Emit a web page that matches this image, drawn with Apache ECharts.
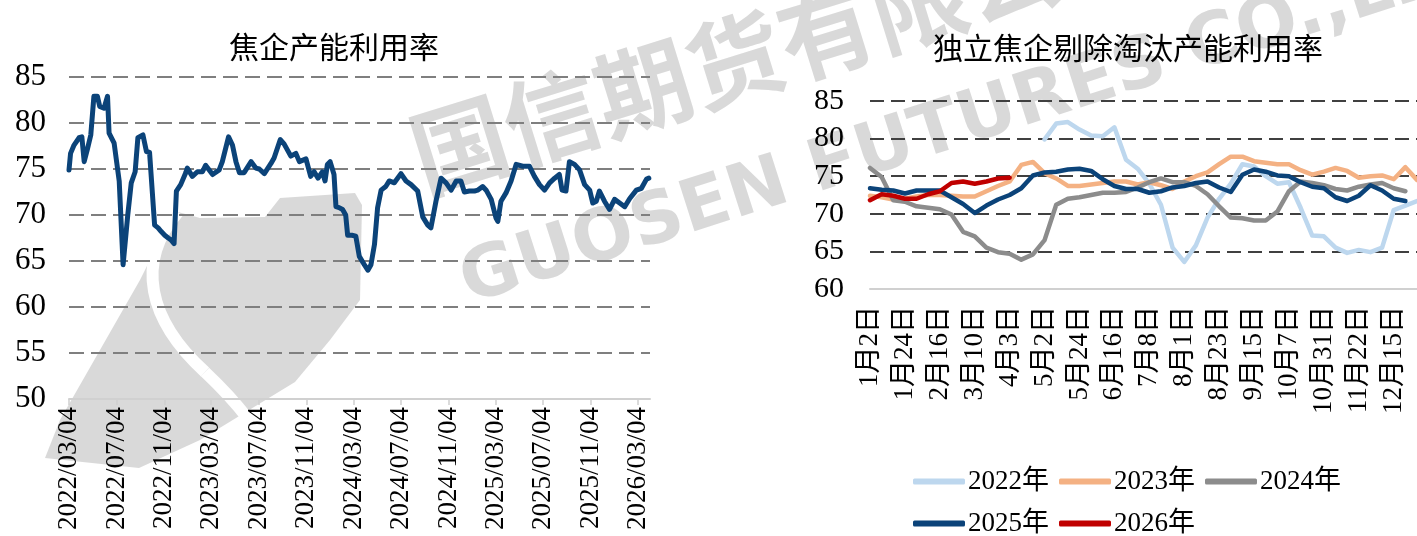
<!DOCTYPE html>
<html>
<head>
<meta charset="utf-8">
<script src="https://cdn.jsdelivr.net/npm/echarts@6/dist/echarts.min.js"></script>
<style>
  html, body { margin: 0; padding: 0; background: #fff; }
  #chart { width: 1417px; height: 536px; }
</style>
</head>
<body>
<div id="chart"></div>
<script>
// 左图：焦企产能利用率（读图取的拐点）
const leftDates = [
  '2022-03-04','2022-03-08','2022-03-17','2022-03-30','2022-04-06','2022-04-12','2022-04-20','2022-04-29',
  '2022-05-07','2022-05-16','2022-05-22','2022-06-02','2022-06-11','2022-06-15','2022-06-28','2022-07-11',
  '2022-07-21','2022-08-02','2022-08-11','2022-08-21','2022-08-28','2022-09-10','2022-09-19','2022-09-27',
  '2022-10-10','2022-10-19','2022-10-27','2022-11-05','2022-11-14','2022-11-21','2022-11-29','2022-12-05',
  '2022-12-16','2022-12-29','2023-01-02','2023-01-15','2023-01-28','2023-02-10','2023-02-18','2023-03-08',
  '2023-03-25','2023-04-02','2023-04-18','2023-04-28','2023-05-07','2023-05-16','2023-05-28','2023-06-15',
  '2023-06-27','2023-07-06','2023-07-19','2023-08-05','2023-08-13','2023-08-29','2023-09-08','2023-09-25',
  '2023-10-08','2023-10-17','2023-11-03','2023-11-15','2023-11-24','2023-12-04','2023-12-15','2023-12-22',
  '2023-12-28','2024-01-04','2024-01-14','2024-01-19','2024-01-27','2024-02-05','2024-02-13','2024-02-18',
  '2024-02-29','2024-03-10','2024-03-19','2024-04-01','2024-04-10','2024-04-18','2024-04-27','2024-05-05',
  '2024-05-14','2024-05-26','2024-06-04','2024-06-17','2024-07-04','2024-07-17','2024-07-30','2024-08-16',
  '2024-08-29','2024-09-11','2024-09-19','2024-10-02','2024-10-15','2024-10-28','2024-11-10','2024-11-23',
  '2024-12-05','2024-12-14','2024-12-27','2025-01-09','2025-01-17','2025-01-30','2025-02-08','2025-02-21',
  '2025-03-05','2025-03-10','2025-03-18','2025-03-31','2025-04-13','2025-04-26','2025-05-13','2025-05-30',
  '2025-06-12','2025-06-25','2025-07-08','2025-07-21','2025-08-03','2025-08-15','2025-08-22','2025-09-01',
  '2025-09-10','2025-09-23','2025-10-06','2025-10-19','2025-11-01','2025-11-09','2025-11-18','2025-11-26',
  '2025-12-09','2025-12-22','2026-01-04','2026-01-17','2026-01-30','2026-02-12','2026-03-01','2026-03-14',
  '2026-03-27','2026-04-02'
];
const leftValues = [
  74.9, 76.7, 77.6, 78.4, 78.5, 75.8, 77.1, 78.7,
  82.9, 82.9, 81.8, 81.6, 82.9, 78.9, 77.8, 73.7,
  64.6, 70.0, 73.5, 74.7, 78.4, 78.7, 76.9, 76.8,
  68.9, 68.6, 68.2, 67.8, 67.5, 67.3, 66.9, 72.6,
  73.3, 74.6, 75.1, 74.2, 74.7, 74.7, 75.4, 74.4,
  74.9, 75.8, 78.5, 77.6, 75.8, 74.6, 74.6, 75.8,
  75.1, 75.0, 74.5, 75.6, 76.2, 78.2, 77.7, 76.4,
  76.7, 75.8, 76.1, 74.2, 74.7, 74.0, 74.7, 73.7,
  75.5, 75.8, 74.4, 70.9, 70.8, 70.6, 70.0, 67.8,
  67.8, 67.7, 65.5, 64.6, 64.0, 64.6, 66.8, 70.8,
  72.7, 73.1, 73.7, 73.5, 74.5, 73.7, 73.3, 72.6,
  69.8, 68.9, 68.6, 71.5, 74.0, 73.5, 72.7, 73.7,
  73.7, 72.5, 72.6, 72.6, 72.7, 73.1, 72.7, 71.7,
  69.7, 69.3, 71.5, 72.4, 73.7, 75.5, 75.3, 75.3,
  74.2, 73.3, 72.7, 73.5, 74.0, 74.4, 72.7, 72.6,
  75.8, 75.5, 74.9, 73.3, 72.7, 71.3, 71.5, 72.6,
  71.5, 70.6, 71.7, 71.3, 70.9, 71.8, 72.7, 72.9,
  73.9, 74.0
];
const leftTicks = [
  '2022-03-04','2022-07-04','2022-11-04','2023-03-04','2023-07-04','2023-11-04','2024-03-04',
  '2024-07-04','2024-11-04','2025-03-04','2025-07-04','2025-11-04','2026-03-04'
];

// 右图：独立焦企剔除淘汰产能利用率（按周）
const weeks = [
  '1月2日','1月9日','1月16日','1月24日','1月31日','2月8日','2月16日','2月23日','3月2日','3月10日',
  '3月18日','3月26日','4月3日','4月13日','4月22日','5月2日','5月9日','5月16日','5月24日','6月1日',
  '6月8日','6月16日','6月23日','6月30日','7月8日','7月16日','7月24日','8月1日','8月8日','8月15日',
  '8月23日','8月31日','9月7日','9月15日','9月22日','9月29日','10月7日','10月15日','10月23日','10月31日',
  '11月7日','11月14日','11月22日','11月29日','12月7日','12月15日','12月22日','12月29日'
];
const y2022 = [
  null, null, null, null, null, null, null, null, null, null, null, null, null, null, null,
  79.9, 82.0, 82.2, 81.2, 80.4, 80.3, 81.5, 77.2, 76.0, 74.0, 71.2, 65.5, 63.6, 65.8, 69.5,
  72.0, 74.0, 76.6, 76.3, 75.0, 74.0, 74.2, 70.8, 67.1, 67.0, 65.5, 64.8, 65.2, 64.9, 65.5,
  70.5, 71.1, 71.7
];
const y2023 = [
  72.4, 72.2, 71.9, 72.0, 72.3, 72.5, 72.5, 72.4, 72.3, 72.3, 73.0, 73.7, 74.3, 76.5, 76.9,
  75.4, 74.7, 73.7, 73.7, 73.9, 74.1, 74.3, 74.3, 73.9, 74.2, 73.8, 73.3, 74.3, 75.0, 75.5,
  76.6, 77.6, 77.6, 77.0, 76.8, 76.6, 76.6, 75.8, 75.2, 75.6, 76.1, 75.7, 74.8, 75.0, 75.1,
  74.6, 76.2, 74.5
];
const y2024 = [
  76.1, 74.9, 71.8, 71.6, 71.0, 70.8, 70.6, 69.9, 67.6, 67.0, 65.5, 64.9, 64.7, 63.9, 64.6,
  66.5, 71.2, 72.0, 72.2, 72.5, 72.8, 72.8, 72.9, 73.5, 74.2, 74.7, 74.2, 74.2, 73.7, 72.6,
  71.0, 69.5, 69.4, 69.1, 69.1, 70.3, 73.0, 74.3, 74.1, 73.8, 73.3, 73.1, 73.6, 73.9, 74.1,
  73.4, 73.0, null
];
const y2025 = [
  73.4, 73.2, 73.1, 72.7, 73.1, 73.1, 73.1, 72.2, 71.3, 70.1, 71.1, 71.9, 72.5, 73.4, 75.1,
  75.5, 75.6, 75.9, 76.0, 75.7, 74.6, 73.7, 73.3, 73.3, 72.8, 73.0, 73.5, 73.7, 74.1, 74.3,
  73.5, 72.9, 75.2, 75.9, 75.6, 75.1, 75.0, 74.2, 73.6, 73.4, 72.2, 71.7, 72.4, 73.8, 73.1,
  72.0, 71.7, null
];
const y2026 = [71.8, 72.6, 72.4, 72.0, 72.0, 72.6, 73.0, 74.1, 74.3, 74.0, 74.3, 74.7, 74.8];

const yearNames = ['2022年', '2023年', '2024年', '2025年', '2026年'];
const yearColors = ['#BDD7EE', '#F4B183', '#8C8C8C', '#0B4379', '#C00000'];

const FONT = "'Liberation Serif', 'Times New Roman', 'Noto Sans CJK SC', serif";
const WM = 'rgba(128,128,128,0.3)'; // 水印灰

function toTime(s) {
  const p = s.split('-').map(Number);
  return new Date(p[0], p[1] - 1, p[2]).getTime();
}
function pad(n) { return n < 10 ? '0' + n : '' + n; }

const tickTimes = leftTicks.map(toTime);
const leftData = leftDates.map((d, i) => [toTime(d), leftValues[i]]);

const chart = echarts.init(document.getElementById('chart'));

const yearSeries = [y2022, y2023, y2024, y2025, y2026].map((arr, i) => ({
  name: yearNames[i],
  type: 'line',
  xAxisIndex: 1,
  yAxisIndex: 1,
  data: arr,
  showSymbol: false,
  symbol: 'none',
  connectNulls: false,
  lineStyle: { color: yearColors[i], width: 4.5, cap: 'round', join: 'round' },
  itemStyle: { color: yearColors[i] },
  z: 3 + i
}));

const legendBase = {
  left: 908, itemWidth: 52, itemHeight: 6, itemGap: 10, icon: 'roundRect',
  textStyle: { fontFamily: FONT, fontSize: 27, color: '#000', padding: [0, 0, 0, -2] }
};

const option = {
  animation: false,
  backgroundColor: '#fff',
  textStyle: { fontFamily: FONT },
  title: [
    { text: '焦企产能利用率', left: 329, top: 30, textAlign: 'center',
      textStyle: { fontFamily: FONT, fontSize: 30, fontWeight: 'normal', color: '#000' } },
    { text: '独立焦企剔除淘汰产能利用率', left: 1123, top: 31, textAlign: 'center',
      textStyle: { fontFamily: FONT, fontSize: 30, fontWeight: 'normal', color: '#000' } }
  ],
  graphic: [
    // 水印
    { type: 'text', x: 428, y: 205, rotation: 0.3, z: -1, silent: true,
      style: { text: '国信期货有限公司', font: 'bold 96px "Noto Sans CJK SC"', fill: WM, verticalAlign: 'bottom' } },
    { type: 'text', x: 474, y: 320, rotation: 0.31, z: -1, silent: true,
      style: { text: 'GUOSEN FUTURES CO.,LTD', font: 'bold 72px "DejaVu Sans"', fill: WM, verticalAlign: 'bottom' } },
    // 左下角 logo 底纹
    { type: 'polygon', z: -1, silent: true,
      shape: { points: [[45, 458], [60, 420], [100, 350], [140, 280], [165, 230], [178, 212], [200, 218],
        [265, 217], [280, 198], [355, 193], [362, 205], [360, 300], [330, 340], [295, 382], [200, 440],
        [139, 468]] },
      style: { fill: WM } },
    { type: 'bezierCurve', z: -1, silent: true,
      shape: { x1: 178, y1: 212, cpx1: 135, cpy1: 262, cpx2: 148, cpy2: 320, x2: 205, y2: 372 },
      style: { fill: 'none', stroke: '#fff', lineWidth: 12 } },
    { type: 'bezierCurve', z: -1, silent: true,
      shape: { x1: 205, y1: 372, cpx1: 240, cpy1: 405, cpx2: 262, cpy2: 435, x2: 270, y2: 455 },
      style: { fill: 'none', stroke: '#fff', lineWidth: 12 } }
  ],
  legend: [
    Object.assign({ data: yearNames.slice(0, 3), top: 463 }, legendBase),
    Object.assign({ data: yearNames.slice(3), top: 505 }, legendBase)
  ],
  grid: [
    { left: 69, top: 77, width: 581, height: 322 },
    { left: 870, top: 101, right: -2, height: 188 }
  ],
  xAxis: [
    {
      type: 'value',
      gridIndex: 0,
      min: toTime('2022-03-04'),
      max: toTime('2026-04-05'),
      axisLine: { lineStyle: { color: '#D0D0D0', width: 2 } },
      axisTick: { show: true, customValues: tickTimes, length: 6, lineStyle: { color: '#D0D0D0', width: 1.5 } },
      axisLabel: {
        customValues: tickTimes,
        rotate: 90,
        margin: 8,
        fontFamily: FONT,
        fontSize: 27,
        color: '#000',
        formatter: function (v) {
          const d = new Date(v);
          return d.getFullYear() + '/' + pad(d.getMonth() + 1) + '/' + pad(d.getDate());
        }
      },
      splitLine: { show: false }
    },
    {
      type: 'category',
      gridIndex: 1,
      data: weeks,
      boundaryGap: false,
      axisLine: { lineStyle: { color: '#D0D0D0', width: 2 } },
      axisTick: { show: false },
      axisLabel: { interval: 2, rotate: 90, margin: 17, fontFamily: FONT, fontSize: 27, color: '#000' },
      splitLine: { show: false }
    }
  ],
  yAxis: [
    {
      type: 'value',
      gridIndex: 0,
      min: 50, max: 85, interval: 5,
      axisLine: { show: false },
      axisTick: { show: false },
      axisLabel: { margin: 23, fontFamily: FONT, fontSize: 31, color: '#000' },
      splitLine: { showMinLine: false, lineStyle: { color: '#7F7F7F', width: 2, type: [15, 7] } }
    },
    {
      type: 'value',
      gridIndex: 1,
      min: 60, max: 85, interval: 5,
      axisLine: { show: false },
      axisTick: { show: false },
      axisLabel: { margin: 26, fontFamily: FONT, fontSize: 30, color: '#000' },
      splitLine: { showMinLine: false, lineStyle: { color: '#404040', width: 2, type: [14, 7] } }
    }
  ],
  series: [
    {
      name: '焦企产能利用率',
      type: 'line',
      xAxisIndex: 0,
      yAxisIndex: 0,
      data: leftData,
      showSymbol: false,
      symbol: 'none',
      lineStyle: { color: '#0B4379', width: 5, cap: 'round', join: 'round' },
      z: 3
    }
  ].concat(yearSeries)
};

chart.setOption(option);
window.addEventListener('resize', () => { chart.resize(); });
</script>
</body>
</html>
